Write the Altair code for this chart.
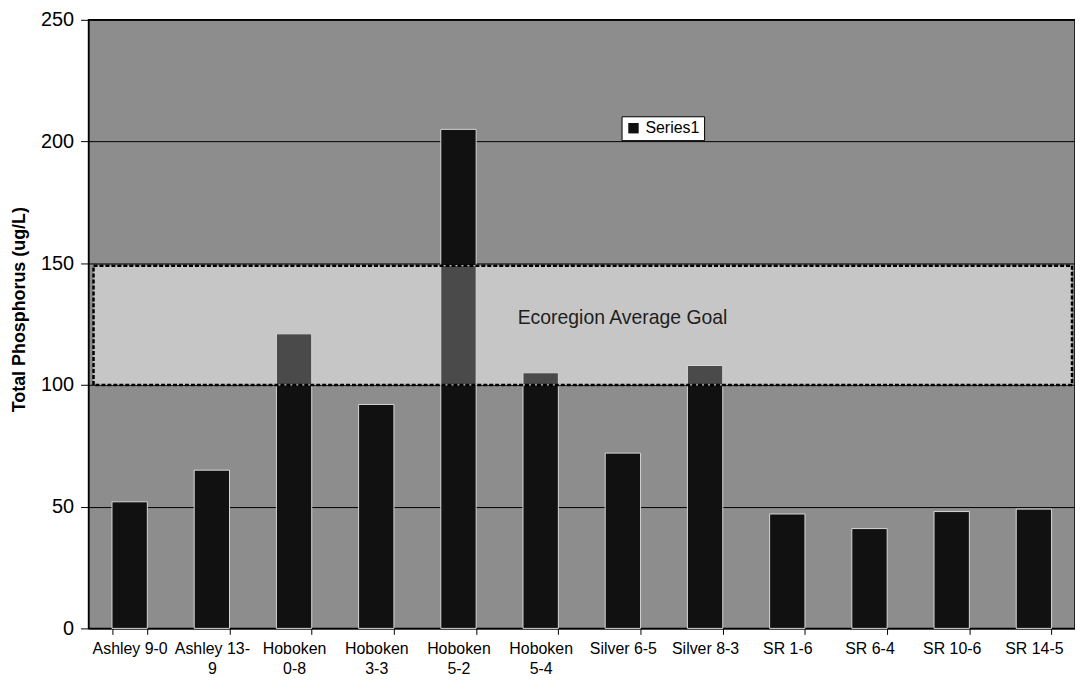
import altair as alt
import pandas as pd

categories = ["Ashley 9-0", "Ashley 13-9", "Hoboken 0-8", "Hoboken 3-3", "Hoboken 5-2",
              "Hoboken 5-4", "Silver 6-5", "Silver 8-3", "SR 1-6", "SR 6-4", "SR 10-6", "SR 14-5"]
tick_labels = [["Ashley 9-0"], ["Ashley 13-", "9"], ["Hoboken", "0-8"], ["Hoboken", "3-3"],
               ["Hoboken", "5-2"], ["Hoboken", "5-4"], ["Silver 6-5"], ["Silver 8-3"],
               ["SR 1-6"], ["SR 6-4"], ["SR 10-6"], ["SR 14-5"]]
values = [52, 65, 121, 92, 205, 105, 72, 108, 47, 41, 48, 49]
series_name = "Series1"
goal_low = 100
goal_high = 149
goal_label = "Ecoregion Average Goal"
y_ticks = [0, 50, 100, 150, 200, 250]

W, H = 992, 612

df = pd.DataFrame({"site": categories, "tp": values, "series": series_name})
band_df = pd.DataFrame({"lo": [goal_low], "hi": [goal_high], "label": [goal_label]})

# label expression for wrapped tick labels
expr = "datum.value"
for cat, lab in zip(categories, tick_labels):
    if len(lab) > 1:
        arr = "[" + ",".join("'" + s + "'" for s in lab) + "]"
        expr = f"datum.value == '{cat}' ? {arr} : ({expr})"

x_enc = alt.X("site:N", sort=categories,
              scale=alt.Scale(paddingInner=0.57, paddingOuter=0.285),
              axis=alt.Axis(title=None, labelExpr=expr, labelAngle=0, tickBand="extent",
                            labelFontSize=16, labelColor="#000", labelPadding=6,
                            tickColor="#000", tickSize=6, domainColor="#000",
                            labelFont="Liberation Sans", labelLineHeight=20, grid=False))
y_scale = alt.Scale(domain=[0, 250], nice=False)

bars = alt.Chart(df).mark_bar(color="#111111", stroke="#d8d8d8", strokeWidth=1).encode(
    x=x_enc,
    y=alt.Y("tp:Q", scale=y_scale,
            axis=alt.Axis(title="Total Phosphorus (ug/L)", values=y_ticks, grid=True,
                          gridColor="#000", gridWidth=1, titleFontSize=18,
                          titleFontWeight="bold", titleFont="Liberation Sans",
                          labelFont="Liberation Sans", labelFontSize=20, labelColor="#000",
                          tickColor="#000", tickSize=8, domainColor="#000", titlePadding=12,
                          titleColor="#000", labelPadding=7, titleY=291)),
    color=alt.Color("series:N", scale=alt.Scale(range=["#111111"]),
                    legend=alt.Legend(title=None, orient="none", legendX=536, legendY=97,
                                      fillColor="#ffffff", strokeColor="#000000", padding=4,
                                      symbolType="square", symbolSize=110,
                                      labelFontSize=16, labelFont="Liberation Sans",
                                      labelColor="#000", symbolStrokeWidth=0))
)

band_fill = alt.Chart(band_df).mark_rect(fill="#c6c6c6").encode(
    x=alt.value(5), x2=alt.value(W - 3),
    y=alt.Y("lo:Q", scale=y_scale), y2="hi:Q")

in_band = alt.Chart(df).transform_filter(f"datum.tp > {goal_low}").transform_calculate(
    top=f"min(datum.tp, {goal_high})", bot=f"{goal_low}"
).mark_bar(color="#4a4a4a", stroke="#d8d8d8", strokeWidth=1).encode(
    x=alt.X("site:N", sort=categories), y=alt.Y("bot:Q", scale=y_scale), y2="top:Q")

band_border = alt.Chart(band_df).mark_rect(fill=None, stroke="#000", strokeWidth=2.5,
                                           strokeDash=[4, 2]).encode(
    x=alt.value(5), x2=alt.value(W - 3),
    y=alt.Y("lo:Q", scale=y_scale), y2="hi:Q")

band_text = alt.Chart(band_df).mark_text(fontSize=19.5, font="Liberation Sans",
                                         color="#1e1e1e").encode(
    x=alt.value(537), y=alt.Y("mid:Q", scale=y_scale), text="label:N"
).transform_calculate(mid="(datum.lo + datum.hi) / 2 + 3")

chart = alt.layer(bars, band_fill, in_band, band_border, band_text).properties(
    width=W, height=H, padding={"left": 2, "top": 0, "right": 0, "bottom": 0}
).configure_view(fill="#8d8d8d", stroke="#000", strokeWidth=1.5)

chart.save("out.html", embed_options={"renderer": "svg", "actions": False})
